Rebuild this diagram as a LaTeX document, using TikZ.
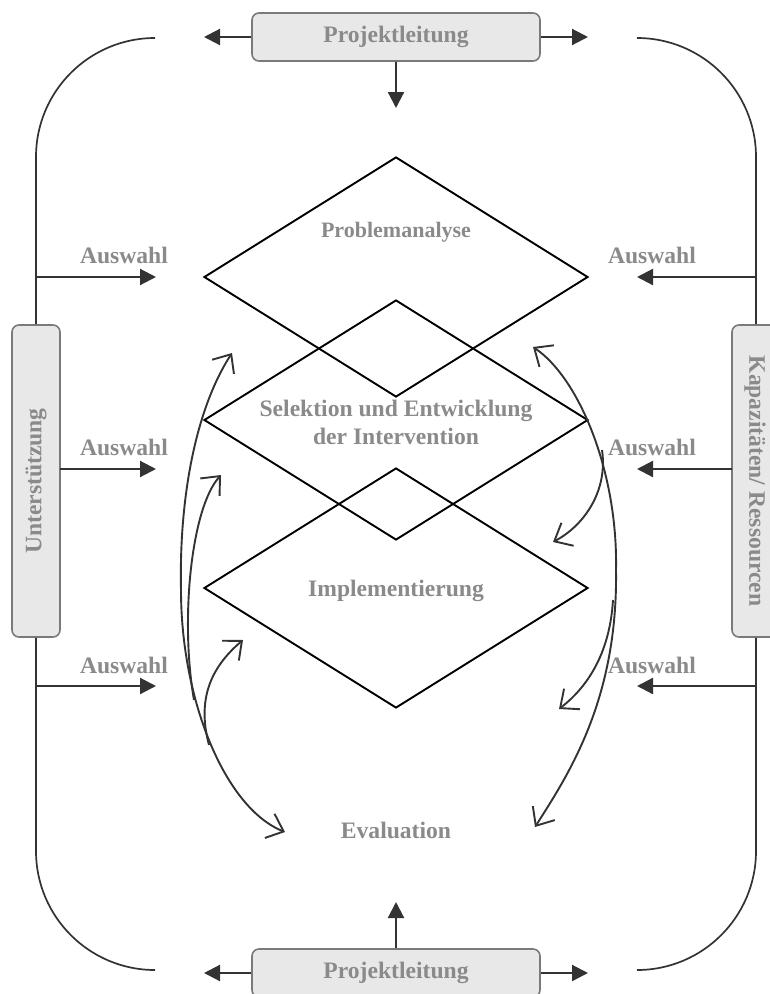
\documentclass[tikz,border=0pt]{standalone}
\usepackage{fontspec}
\setmainfont{Liberation Serif}
\usetikzlibrary{arrows.meta,shapes.geometric}
\definecolor{txtgray}{HTML}{8A8A8A}
\definecolor{linedark}{HTML}{333333}
\definecolor{boxfill}{HTML}{E8E8E8}
\definecolor{boxdraw}{HTML}{7A7A7A}
\begin{document}
\begin{tikzpicture}[x=1pt,y=-1pt,
  lbl/.style={font=\fontsize{23.6}{28}\selectfont\bfseries, text=txtgray, inner sep=0pt, align=center},
  gbox/.style={draw=boxdraw, fill=boxfill, rounded corners=7pt, line width=1.6pt, inner sep=0pt},
  solidarr/.style={draw=linedark, line width=2.2pt, -{Triangle[length=16pt,width=16pt]}},
  bracket/.style={draw=linedark, line width=1.7pt, rounded corners=119pt},
  fbone/.style={draw=linedark, line width=1.9pt, -{Straight Barb[length=15pt,width=26pt]}},
  fbtwo/.style={draw=linedark, line width=1.9pt, {Straight Barb[length=15pt,width=26pt]}-{Straight Barb[length=15pt,width=26pt]}},
  dia/.style={diamond, draw=black, line width=1.9pt, minimum width=384pt, minimum height=240pt, inner sep=0pt}
]
\useasboundingbox (0,0) rectangle (770,994);
\clip (0,0) rectangle (770,994);

% boxes
\node[gbox, minimum width=288pt, minimum height=48pt] (ptop) at (396,37) {};
\node[lbl] (ptoplbl) at (396,37) {Projektleitung};
\node[gbox, minimum width=288pt, minimum height=48pt] (pbot) at (396,973) {};
\node[lbl] (pbotlbl) at (396,973) {Projektleitung};
\node[gbox, minimum width=48pt, minimum height=312pt] (unt) at (36,481) {};
\node[lbl, rotate=90] (untlbl) at (36,481) {Unterstützung};
\node[gbox, minimum width=48pt, minimum height=312pt] (kap) at (756,481) {};
\node[lbl, rotate=-90] (kaplbl) at (755,481) {Kapazitäten/ Ressourcen};

% arrow end coordinates
\coordinate (ptl) at (204,37);
\coordinate (ptr) at (588,37);
\coordinate (ptd) at (396,108);
\coordinate (pbl) at (204,973);
\coordinate (pbr) at (588,973);
\coordinate (pbu) at (396,902);
\draw[solidarr] (ptop.west) -- (ptl);
\draw[solidarr] (ptop.east) -- (ptr);
\draw[solidarr] (ptop.south) -- (ptd);
\draw[solidarr] (pbot.west) -- (pbl);
\draw[solidarr] (pbot.east) -- (pbr);
\draw[solidarr] (pbot.north) -- (pbu);

% brackets
\coordinate (tlc) at (155,38);
\coordinate (trc) at (637,38);
\coordinate (blc) at (155,970);
\coordinate (brc) at (637,970);
\draw[bracket] (tlc) -| (unt.north);
\draw[bracket] (unt.south) |- (blc);
\draw[bracket] (trc) -| (kap.north);
\draw[bracket] (kap.south) |- (brc);

% Auswahl arrows
\coordinate (la1s) at (36,277);  \coordinate (la1e) at (156,277);
\coordinate (la2s) at (60,469);  \coordinate (la2e) at (156,469);
\coordinate (la3s) at (36,686);  \coordinate (la3e) at (156,686);
\coordinate (ra1s) at (756,277); \coordinate (ra1e) at (637,277);
\coordinate (ra2s) at (732,469); \coordinate (ra2e) at (637,469);
\coordinate (ra3s) at (756,686); \coordinate (ra3e) at (637,686);
\draw[solidarr] (la1s) -- (la1e);
\draw[solidarr] (la2s) -- (la2e);
\draw[solidarr] (la3s) -- (la3e);
\draw[solidarr] (ra1s) -- (ra1e);
\draw[solidarr] (ra2s) -- (ra2e);
\draw[solidarr] (ra3s) -- (ra3e);
\node[lbl] (lw1) at (124,255) {Auswahl};
\node[lbl] (lw2) at (124,447) {Auswahl};
\node[lbl] (lw3) at (124,665) {Auswahl};
\node[lbl] (rw1) at (652,255) {Auswahl};
\node[lbl] (rw2) at (652,447) {Auswahl};
\node[lbl] (rw3) at (652,665) {Auswahl};

% diamonds
\node[dia] (d1) at (396,277) {};
\node[dia] (d2) at (396,420) {};
\node[dia] (d3) at (396,588) {};
\node[lbl, font=\fontsize{22}{26}\selectfont\bfseries] (t1) at (396,232) {Problemanalyse};
\node[lbl] (t2) at (396,422) {Selektion und Entwicklung\\der Intervention};
\node[lbl] (t3) at (396,591) {Implementierung};
\node[lbl] (t4) at (396,830) {Evaluation};

% feedback curves, left
\coordinate (lA) at (232,353);
\coordinate (lM) at (181,590);
\coordinate (lE) at (285,832);
\coordinate (lBs) at (194,700);
\coordinate (lBe) at (221,475);
\coordinate (lCs) at (209,745);
\coordinate (lCe) at (243,640);
\draw[fbtwo] (lA) .. controls (195,410) and (179,500) .. (lM) .. controls (181,700) and (225,808) .. (lE);
\draw[fbone] (lBs) .. controls (180,620) and (191,508) .. (lBe);
\draw[fbone] (lCs) .. controls (197,700) and (210,668) .. (lCe);

% feedback curves, right
\coordinate (rA) at (533,347);
\coordinate (rM) at (616,570);
\coordinate (rE) at (535,827);
\coordinate (rFs) at (602,450);
\coordinate (rFe) at (553,542);
\coordinate (rGs) at (613,600);
\coordinate (rGe) at (559,709);
\draw[fbtwo] (rA) .. controls (578,377) and (618,470) .. (rM) .. controls (618,700) and (568,775) .. (rE);
\draw[fbone] (rFs) .. controls (608,490) and (585,525) .. (rFe);
\draw[fbone] (rGs) .. controls (610,650) and (590,685) .. (rGe);
\end{tikzpicture}
\end{document}
